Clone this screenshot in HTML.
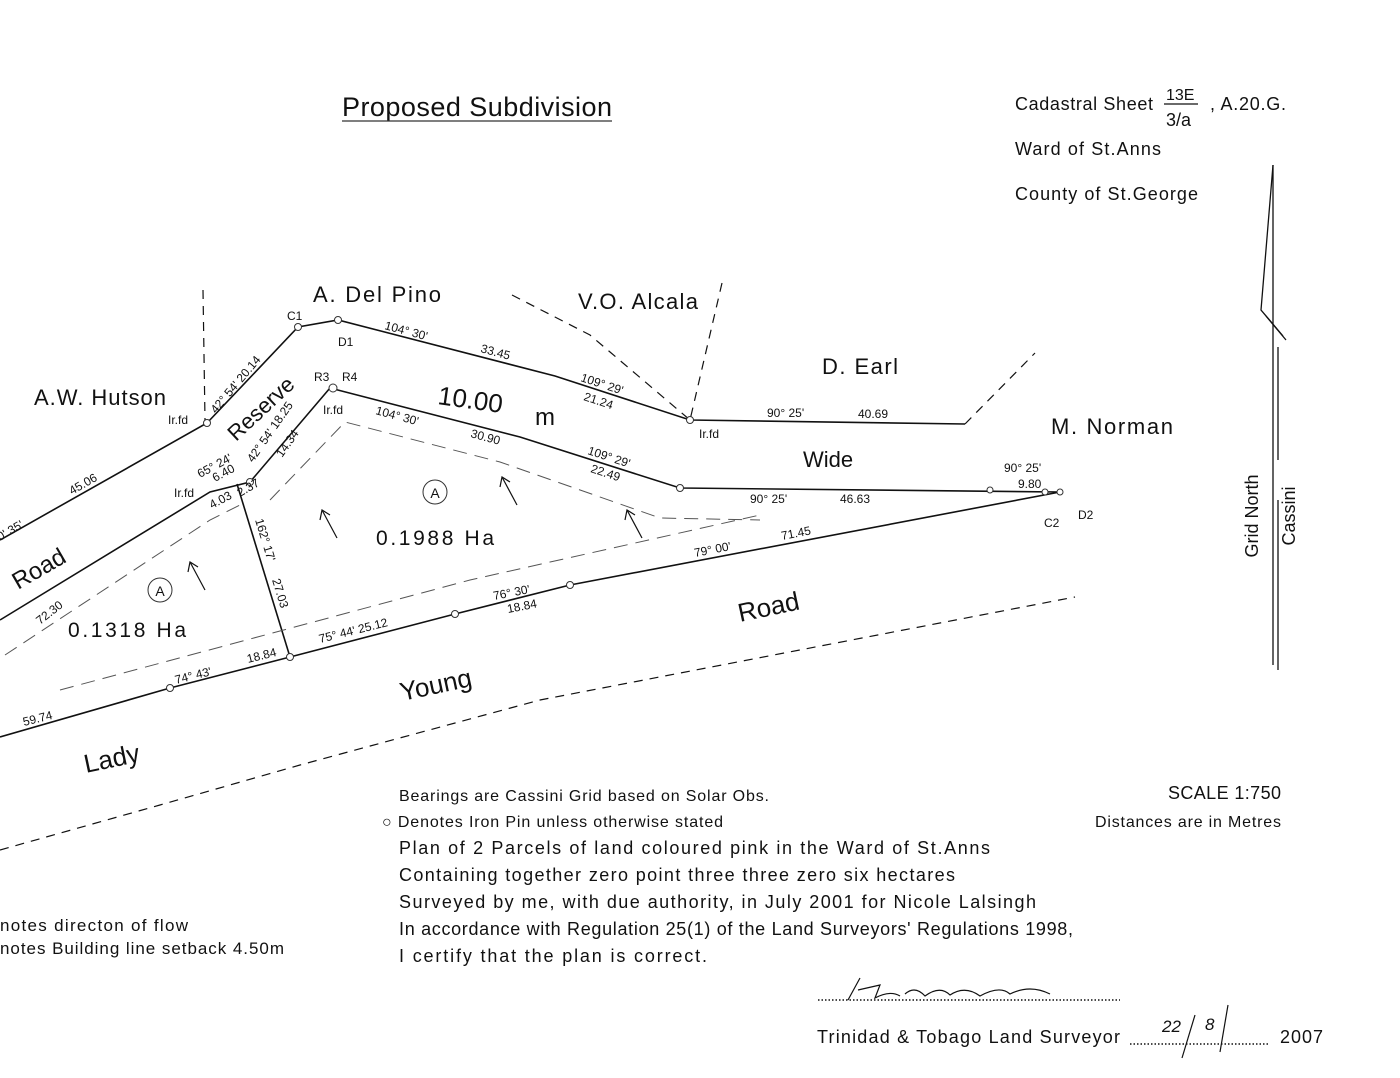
<!DOCTYPE html>
<html><head><meta charset="utf-8"><style>
html,body{margin:0;padding:0;background:#fff;}
svg{display:block;}
text{font-family:"Liberation Sans",sans-serif;fill:#111;}
</style></head><body>
<svg width="1400" height="1078" viewBox="0 0 1400 1078" xmlns="http://www.w3.org/2000/svg">
<g stroke="#111" fill="none" stroke-width="1.6">
<polyline points="0,540 207,423 298,327 338,320 555,376 690,420 965,424"/>
<polyline points="0,620 210,492 250,482 330,388 520,437 680,488 1060,492"/>
<polyline points="0,737 170,688 290,657 455,614 570,585 1060,492"/>
<line x1="237" y1="484" x2="290" y2="657"/>
</g>
<g stroke="#111" fill="none" stroke-width="1.2" stroke-dasharray="9,7">
<line x1="203" y1="290" x2="205" y2="420"/>
<polyline points="512,295 590,335 690,420"/>
<line x1="722" y1="283" x2="690" y2="420"/>
<line x1="965" y1="424" x2="1035" y2="353"/>
<polyline points="0,850 160,805 300,765 540,700 1075,597"/>
</g>
<g stroke="#555" fill="none" stroke-width="1" stroke-dasharray="14,8">
<polyline points="5,655 210,520 240,505"/>
<polyline points="60,690 470,580 760,515"/>
<polyline points="270,500 345,422 500,462 660,518 760,520"/>
</g>
<g stroke="#111" stroke-width="1.2" fill="none">
<line x1="205" y1="590" x2="190" y2="562"/><polyline points="188,572 190,562 198,567"/>
<line x1="337" y1="538" x2="322" y2="510"/><polyline points="320,520 322,510 330,515"/>
<line x1="517" y1="505" x2="502" y2="477"/><polyline points="500,487 502,477 510,482"/>
<line x1="642" y1="538" x2="627" y2="510"/><polyline points="625,520 627,510 635,515"/>
</g>
<g stroke="#333" fill="#fff" stroke-width="1">
<circle cx="207" cy="423" r="3.5"/><circle cx="298" cy="327" r="3.5"/><circle cx="338" cy="320" r="3.5"/>
<circle cx="690" cy="420" r="3.5"/><circle cx="333" cy="388" r="4"/><circle cx="250" cy="482" r="3.5"/>
<circle cx="680" cy="488" r="3.5"/><circle cx="990" cy="490" r="3"/><circle cx="1045" cy="492" r="3"/><circle cx="1060" cy="492" r="3"/>
<circle cx="170" cy="688" r="3.5"/><circle cx="290" cy="657" r="3.5"/><circle cx="455" cy="614" r="3.5"/><circle cx="570" cy="585" r="3.5"/>
<circle cx="160" cy="590" r="12"/><circle cx="435" cy="492" r="12"/>
</g>
<g stroke="#111" stroke-width="1.3" fill="none">
<line x1="1273" y1="165" x2="1273" y2="665"/>
<polyline points="1273,165 1261,310 1283,336"/>
<line x1="1266" y1="316" x2="1286" y2="340"/>
<line x1="1278" y1="347" x2="1278" y2="460"/>
<line x1="1278" y1="500" x2="1278" y2="670"/>
</g>
<text transform="translate(1258,516) rotate(-90)" font-size="18" text-anchor="middle">Grid  North</text>
<text transform="translate(1295,516) rotate(-90)" font-size="18" text-anchor="middle">Cassini</text>
<text x="342" y="116" font-size="27" textLength="270" fill="#333">Proposed  Subdivision</text>
<line x1="342" y1="121" x2="612" y2="121" stroke="#333" stroke-width="1.3"/>
<text x="1015" y="110" font-size="18" textLength="138" lengthAdjust="spacing">Cadastral  Sheet</text>
<text x="1166" y="100" font-size="16">13E</text>
<line x1="1164" y1="104" x2="1198" y2="104" stroke="#111" stroke-width="1.2"/>
<text x="1166" y="126" font-size="18">3/a</text>
<text x="1210" y="110" font-size="18" textLength="76" lengthAdjust="spacing">,  A.20.G.</text>
<text x="1015" y="155" font-size="18" textLength="146" lengthAdjust="spacing">Ward  of  St.Anns</text>
<text x="1015" y="200" font-size="18" textLength="183" lengthAdjust="spacing">County  of  St.George</text>
<text x="313" y="302" font-size="22" textLength="128" lengthAdjust="spacing">A.  Del  Pino</text>
<text x="578" y="309" font-size="22" textLength="120" lengthAdjust="spacing">V.O.  Alcala</text>
<text x="34" y="405" font-size="22" textLength="132" lengthAdjust="spacing">A.W.  Hutson</text>
<text x="822" y="374" font-size="22" textLength="76" lengthAdjust="spacing">D.  Earl</text>
<text x="1051" y="434" font-size="22" textLength="122" lengthAdjust="spacing">M.  Norman</text>
<text x="437" y="404" font-size="26" transform="rotate(8 437 404)">10.00</text>
<text x="535" y="425" font-size="24">m</text>
<text x="803" y="467" font-size="22">Wide</text>
<text x="236" y="442" font-size="22" transform="rotate(-43 236 442)">Reserve</text>
<text x="18" y="590" font-size="24" transform="rotate(-30 18 590)">Road</text>
<text x="740" y="622" font-size="26" transform="rotate(-12 740 622)">Road</text>
<text x="402" y="701" font-size="26" transform="rotate(-12 402 701)">Young</text>
<text x="86" y="773" font-size="26" transform="rotate(-12 86 773)">Lady</text>
<text x="376" y="545" font-size="21" textLength="118" lengthAdjust="spacing">0.1988  Ha</text>
<text x="68" y="637" font-size="21" textLength="118" lengthAdjust="spacing">0.1318  Ha</text>
<text x="435" y="498" font-size="14" text-anchor="middle">A</text>
<text x="160" y="596" font-size="14" text-anchor="middle">A</text>
<g font-size="12">
<text x="287" y="320">C1</text><text x="338" y="346">D1</text>
<text x="314" y="381">R3</text><text x="342" y="381">R4</text>
<text x="168" y="424">Ir.fd</text><text x="174" y="497">Ir.fd</text><text x="323" y="414">Ir.fd</text><text x="699" y="438">Ir.fd</text>
<text x="1044" y="527">C2</text><text x="1078" y="519">D2</text>
<text x="384" y="329" transform="rotate(15 384 329)">104°  30'</text>
<text x="480" y="352" transform="rotate(15 480 352)">33.45</text>
<text x="580" y="381" transform="rotate(18 580 381)">109°  29'</text>
<text x="583" y="400" transform="rotate(18 583 400)">21.24</text>
<text x="375" y="414" transform="rotate(15 375 414)">104°  30'</text>
<text x="470" y="437" transform="rotate(15 470 437)">30.90</text>
<text x="587" y="454" transform="rotate(18 587 454)">109°  29'</text>
<text x="590" y="472" transform="rotate(18 590 472)">22.49</text>
<text x="767" y="417">90°  25'</text><text x="858" y="418">40.69</text>
<text x="750" y="503">90°  25'</text><text x="840" y="503">46.63</text>
<text x="1004" y="472">90°  25'</text><text x="1018" y="488">9.80</text>
<text x="695" y="557" transform="rotate(-11 695 557)">79°  00'</text>
<text x="782" y="540" transform="rotate(-11 782 540)">71.45</text>
<text x="494" y="600" transform="rotate(-11 494 600)">76°  30'</text>
<text x="508" y="613" transform="rotate(-11 508 613)" fill="#555">18.84</text>
<text x="320" y="643" transform="rotate(-14 320 643)">75°  44'  25.12</text>
<text x="176" y="684" transform="rotate(-14 176 684)">74°  43'</text>
<text x="248" y="663" transform="rotate(-14 248 663)">18.84</text>
<text x="24" y="726" transform="rotate(-14 24 726)">59.74</text>
<text x="40" y="625" transform="rotate(-38 40 625)">72.30</text>
<text x="0" y="541" transform="rotate(-30 0 541)">0'  35'</text>
<text x="72" y="495" transform="rotate(-30 72 495)">45.06</text>
<text x="216" y="414" transform="rotate(-50 216 414)">42°  54'  20.14</text>
<text x="200" y="478" transform="rotate(-28 200 478)">65°  24'</text>
<text x="215" y="482" transform="rotate(-28 215 482)">6.40</text>
<text x="212" y="509" transform="rotate(-28 212 509)">4.03</text>
<text x="240" y="497" transform="rotate(-30 240 497)">2.37</text>
<text x="253" y="463" transform="rotate(-55 253 463)">42°  54'  18.25</text>
<text x="282" y="458" transform="rotate(-55 282 458)">14.34</text>
<text x="255" y="520" transform="rotate(73 255 520)">162°  17'</text>
<text x="272" y="580" transform="rotate(73 272 580)">27.03</text>
</g>
<g font-size="16" lengthAdjust="spacing">
<text x="399" y="801" textLength="370" lengthAdjust="spacing">Bearings  are  Cassini  Grid  based  on  Solar  Obs.</text>
<text x="382" y="827" textLength="341" lengthAdjust="spacing">○ Denotes  Iron  Pin  unless  otherwise  stated</text>
<text x="1168" y="799" font-size="18" textLength="113" lengthAdjust="spacing">SCALE  1:750</text>
<text x="1095" y="827" textLength="186" lengthAdjust="spacing">Distances  are  in  Metres</text>
</g>
<g font-size="18">
<text x="399" y="854" textLength="591" lengthAdjust="spacing">Plan  of  2  Parcels  of  land  coloured  pink  in  the  Ward  of  St.Anns</text>
<text x="399" y="881" textLength="556" lengthAdjust="spacing">Containing  together  zero  point  three  three  zero  six  hectares</text>
<text x="399" y="908" textLength="637" lengthAdjust="spacing">Surveyed  by  me,  with  due  authority,  in  July  2001  for  Nicole  Lalsingh</text>
<text x="399" y="935" textLength="674" lengthAdjust="spacing">In  accordance  with  Regulation  25(1)  of  the  Land  Surveyors'  Regulations  1998,</text>
<text x="399" y="962" textLength="308" lengthAdjust="spacing">I  certify  that  the  plan  is  correct.</text>
<text x="0" y="931" font-size="17" textLength="188" lengthAdjust="spacing">notes  directon  of  flow</text>
<text x="0" y="954" font-size="17" textLength="284" lengthAdjust="spacing">notes  Building  line  setback  4.50m</text>
<text x="817" y="1043" textLength="303" lengthAdjust="spacing">Trinidad  &amp;  Tobago  Land  Surveyor</text>
<text x="1280" y="1043" textLength="43" lengthAdjust="spacing">2007</text>
</g>
<line x1="818" y1="1000" x2="1120" y2="1000" stroke="#111" stroke-width="1.5" stroke-dasharray="1.5,2"/>
<line x1="1130" y1="1044" x2="1270" y2="1044" stroke="#111" stroke-width="1.5" stroke-dasharray="1.5,2"/>
<path d="M848,1000 L860,978 M858,990 L880,985 L875,998 Q890,990 900,996 M905,994 Q915,985 925,996 Q940,985 950,995 Q965,985 980,996 Q1000,985 1010,994 Q1030,984 1050,994" stroke="#111" fill="none" stroke-width="1.2"/>
<text x="1162" y="1032" font-size="17" font-style="italic">22</text>
<text x="1205" y="1030" font-size="17" font-style="italic">8</text>
<line x1="1195" y1="1015" x2="1182" y2="1058" stroke="#111" stroke-width="1.2"/>
<line x1="1228" y1="1005" x2="1220" y2="1052" stroke="#111" stroke-width="1.2"/>
</svg>
</body></html>
